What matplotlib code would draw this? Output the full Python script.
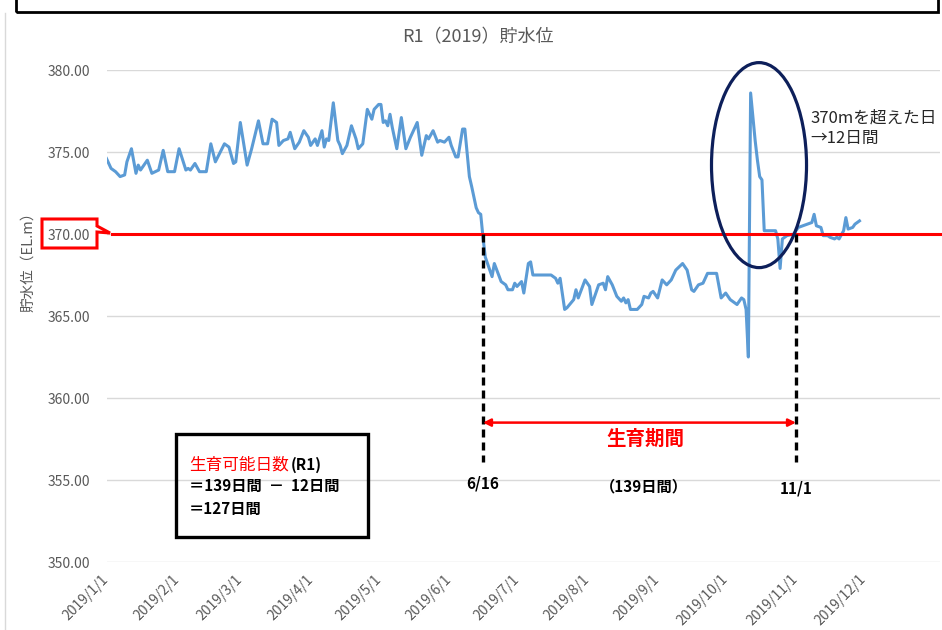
import numpy as np
import matplotlib
matplotlib.use("Agg")
import matplotlib.pyplot as plt
import matplotlib.dates as mdates
from matplotlib.patches import Ellipse, Rectangle, Polygon

plt.rcParams['font.family'] = ['Noto Sans CJK JP', 'DejaVu Sans']

# days since 2019/1/1 and reservoir level (EL.m)
day = [0, 2, 4, 6, 8, 9, 11, 13, 14, 15, 18, 20, 23, 25, 27, 30, 32, 35, 36, 37,
       39, 41, 44, 46, 48, 52, 54, 56, 57, 59, 62, 64, 67, 69, 71, 73, 75, 76, 78, 80,
       81, 83, 85, 87, 89, 90, 92, 93, 95, 96, 97, 98, 100, 102, 103, 104, 106, 108, 110, 111,
       113, 115, 117, 118, 120, 121, 122, 123, 124, 125, 126, 128, 130, 132, 134, 137, 139, 141, 142, 144,
       146, 147, 149, 151, 152, 154, 155, 157, 158, 160, 161, 163, 164, 165, 166,
       167, 170, 171, 174, 176, 177, 179, 180, 181, 183, 184, 186, 187, 188, 196, 198, 199, 200, 202, 203,
       206, 207, 208, 211, 213, 214, 217, 219, 220, 221, 223, 225, 227, 228, 229, 230, 231, 234, 236, 237, 239,
       240, 241, 243, 245, 247, 249, 251, 254, 256, 258, 259, 261, 263, 265, 269, 271, 273, 275, 277, 278,
       280, 281, 282, 283, 284, 286, 287, 288, 289, 290, 295, 296, 297, 298, 300, 303,
       305, 307, 309, 311, 312, 313, 315, 316, 318, 319, 321, 322, 323, 325, 326, 327, 329, 330, 332]
level = [374.6, 374.0, 373.8, 373.5, 373.6, 374.4, 375.2, 373.7, 374.2, 373.9, 374.5, 373.7, 373.9, 375.1, 373.8, 373.8, 375.2, 373.9, 374.0, 373.9,
         374.3, 373.8, 373.8, 375.5, 374.4, 375.5, 375.3, 374.3, 374.4, 376.8, 374.2, 375.2, 376.9, 375.5, 375.5, 377.0, 376.8, 375.4, 375.7, 375.8,
         376.2, 375.2, 375.6, 376.3, 375.9, 375.4, 375.8, 375.4, 376.3, 375.3, 375.8, 375.7, 378.0, 375.7, 375.4, 374.9, 375.4, 376.6, 375.8, 375.2,
         375.5, 377.6, 377.0, 377.6, 377.9, 377.9, 376.8, 376.9, 376.6, 377.3, 376.5, 375.2, 377.1, 375.2, 375.9, 376.8, 374.8, 376.0, 375.8, 376.3,
         375.6, 375.7, 375.6, 375.9, 375.4, 374.7, 374.7, 376.4, 376.4, 373.5, 372.9, 371.6, 371.3, 371.2, 369.8,
         368.6, 367.4, 368.2, 367.1, 366.9, 366.6, 366.6, 367.0, 366.8, 367.1, 366.4, 368.2, 368.3, 367.5, 367.5, 367.3, 367.0, 367.3, 365.4, 365.5,
         366.0, 366.6, 366.1, 367.2, 366.8, 365.7, 366.9, 367.0, 366.6, 367.4, 366.9, 366.2, 365.9, 366.1, 365.8, 366.0, 365.4, 365.4, 365.7, 366.2, 366.1,
         366.4, 366.5, 366.1, 367.2, 366.9, 367.2, 367.8, 368.2, 367.8, 366.6, 366.5, 366.9, 367.0, 367.6, 367.6, 366.1, 366.4, 366.0, 365.8, 365.7,
         366.1, 366.0, 365.4, 362.5, 378.6, 375.7, 374.5, 373.5, 373.3, 370.2, 370.2, 369.7, 367.9, 369.7, 369.9, 370.0,
         370.4, 370.5, 370.6, 370.7, 371.2, 370.5, 370.4, 369.9, 369.9, 369.8, 369.7, 369.8, 369.7, 370.2, 371.0, 370.3, 370.4, 370.6, 370.8]

month_ticks = ['2019-01-01', '2019-02-01', '2019-03-01', '2019-04-01', '2019-05-01', '2019-06-01',
               '2019-07-01', '2019-08-01', '2019-09-01', '2019-10-01', '2019-11-01', '2019-12-01']
month_labels = ['2019/1/1', '2019/2/1', '2019/3/1', '2019/4/1', '2019/5/1', '2019/6/1',
                '2019/7/1', '2019/8/1', '2019/9/1', '2019/10/1', '2019/11/1', '2019/12/1']
yticks = [350, 355, 360, 365, 370, 375, 380]
threshold = 370.0
grow_start = '2019-06-16'
grow_end = '2019-11-01'

t0 = mdates.date2num(np.datetime64('2019-01-01'))
x = t0 + np.array(day, dtype=float)
xs = mdates.date2num(np.datetime64(grow_start))
xe = mdates.date2num(np.datetime64(grow_end))

W, H = 942, 630
fig = plt.figure(figsize=(W / 100, H / 100), dpi=100)


def px(a, b):
    return (a / W, 1 - b / H)


ax = fig.add_axes([106.5 / W, 1 - 562 / H, 833.5 / W, 492 / H])
for s in ax.spines.values():
    s.set_visible(False)
ax.set_ylim(350, 380)
ax.set_xlim(t0, t0 + 367.5)
ax.set_yticks(yticks)
ax.set_yticklabels([f"{v:.2f}" for v in yticks])
ax.grid(axis='y', color='#d9d9d9', lw=1)
ax.set_axisbelow(True)
ax.tick_params(axis='y', length=0, pad=12, labelsize=10, labelcolor='#595959')
ax.set_xticks([mdates.date2num(np.datetime64(d)) for d in month_ticks])
ax.set_xticklabels(month_labels, rotation=45, ha='right', va='center', rotation_mode='anchor')
ax.tick_params(axis='x', length=0, pad=11, labelsize=10, labelcolor='#595959')

ax.plot(x, level, color='#5b9bd5', lw=2.2, zorder=3)
ax.axhline(threshold, xmin=5.5 / 833.5, xmax=1, color='#ff0000', lw=2.2, zorder=4, clip_on=False)

# growth period markers
for xv in (xs, xe):
    ax.plot([xv, xv], [threshold, 356.1], color='black', lw=2.4, ls=(0, (2.4, 1.5)), zorder=5)
ax.annotate('', xy=(xe, 358.5), xytext=(xs, 358.5),
            arrowprops=dict(arrowstyle='<|-|>', color='#ff0000', lw=1.8, mutation_scale=11,
                            shrinkA=0, shrinkB=0), zorder=5)
ax.text(t0 + 237.5, 357.5, '生育期間', color='#ff0000', fontsize=14, fontweight='bold',
        ha='center', va='center')
ax.text(xs, 354.8, '6/16', fontsize=11, fontweight='bold', ha='center', va='center')
ax.text(t0 + 237, 354.6, '（139日間）', fontsize=11, fontweight='bold', ha='center', va='center')
ax.text(xe, 354.5, '11/1', fontsize=11, fontweight='bold', ha='center', va='center')

# ellipse round the days above 370 m
ax.add_patch(Ellipse((t0 + 287.7, 374.2), 41.9, 12.5, fill=False, ec='#0d1f5a', lw=2.3,
                     zorder=6, clip_on=False))
fig.text(*px(810, 118), '370mを超えた日', fontsize=12, color='#262626', va='center')
fig.text(*px(810, 138), '→12日間', fontsize=12, color='#262626', va='center')

# title and axis label
fig.text(*px(478, 37), 'R1（2019）貯水位', fontsize=13, color='#595959', ha='center', va='center')
fig.text(*px(28, 258), '貯水位（EL.m）', fontsize=10.5, color='#595959', rotation=90,
         ha='center', va='center')

# red callout round the 370.00 label
callout = [(42, 219), (97, 219), (97, 226), (110, 233), (97, 232), (97, 248), (42, 248)]
fig.patches.append(Polygon([px(a, b) for a, b in callout], closed=True, fill=False,
                           ec='#ff0000', lw=2.2, transform=fig.transFigure, figure=fig))

# summary box
bx0, by0 = px(176, 537)
bx1, by1 = px(368, 434)
fig.patches.append(Rectangle((bx0, by0), bx1 - bx0, by1 - by0, fill=False, ec='black', lw=2.4,
                             transform=fig.transFigure, figure=fig))
fig.text(*px(189, 465), '生育可能日数', fontsize=12, color='#ff0000', va='center')
fig.text(*px(291, 465), '(R1)', fontsize=11, fontweight='bold', color='black', va='center')
fig.text(*px(189, 486), '＝139日間  －  12日間', fontsize=11, fontweight='bold', va='center')
fig.text(*px(189, 509), '＝127日間', fontsize=11, fontweight='bold', va='center')

# frames of the surrounding slide
fx0, fy0 = px(16, 12)
fig.patches.append(Rectangle((fx0, fy0), px(938, 0)[0] - fx0, 0.1, fill=False, ec='black', lw=2,
                             transform=fig.transFigure, figure=fig))
fig.add_artist(plt.Line2D([px(5, 0)[0]] * 2, [0, px(0, 13)[1]], color='#d9d9d9', lw=1))

fig.savefig('out.png', dpi=100)
